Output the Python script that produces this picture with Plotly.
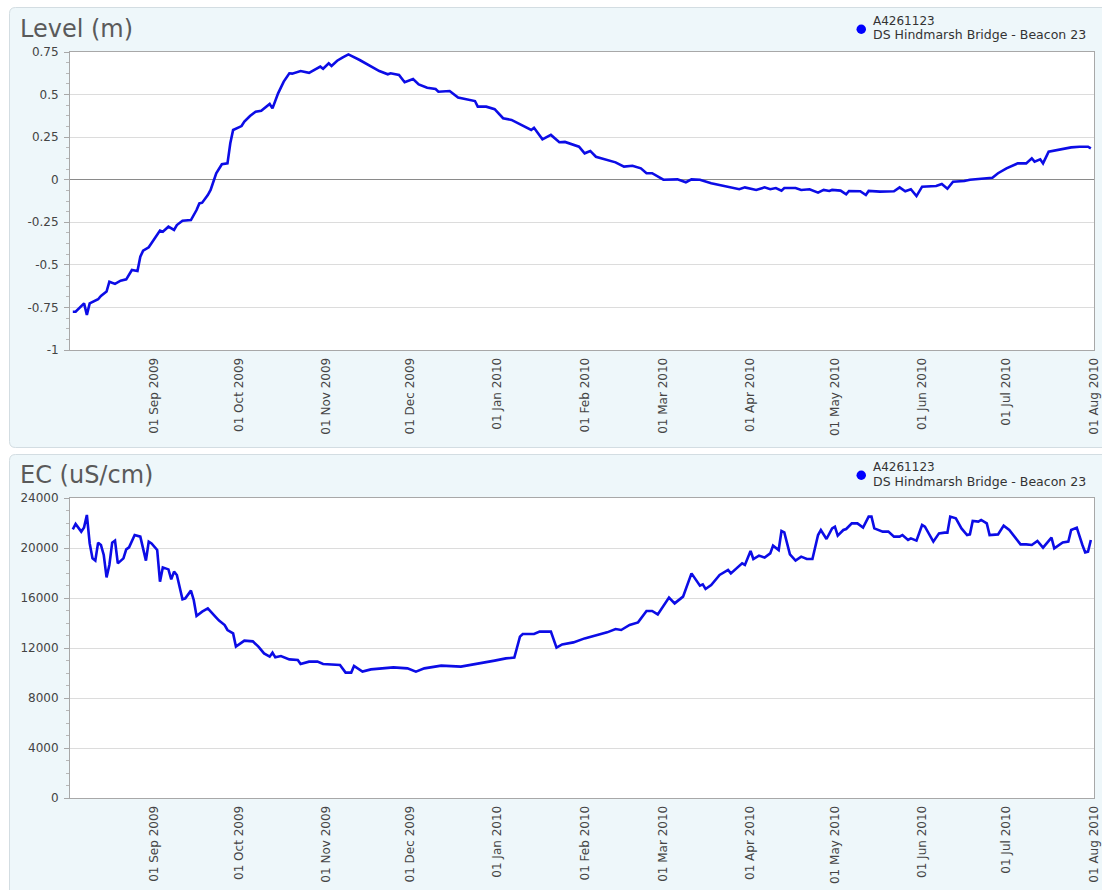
import plotly.graph_objects as go

W, H = 1102, 890

# ---------------- data ----------------
level_dates = [
    "2009-08-03", "2009-08-04", "2009-08-07", "2009-08-08", "2009-08-09", "2009-08-12", "2009-08-13",
    "2009-08-15", "2009-08-16", "2009-08-18", "2009-08-20", "2009-08-22", "2009-08-24", "2009-08-26",
    "2009-08-27", "2009-08-28", "2009-08-30", "2009-09-01", "2009-09-03", "2009-09-04", "2009-09-06",
    "2009-09-08", "2009-09-09", "2009-09-11", "2009-09-14", "2009-09-16", "2009-09-17", "2009-09-18",
    "2009-09-20", "2009-09-21", "2009-09-23", "2009-09-25", "2009-09-27", "2009-09-28", "2009-09-29",
    "2009-10-02", "2009-10-03", "2009-10-05", "2009-10-07", "2009-10-09", "2009-10-12", "2009-10-13",
    "2009-10-15", "2009-10-17", "2009-10-19", "2009-10-20", "2009-10-23", "2009-10-26", "2009-10-28",
    "2009-10-30", "2009-10-31", "2009-11-02", "2009-11-03", "2009-11-05", "2009-11-07", "2009-11-09",
    "2009-11-13", "2009-11-17", "2009-11-20", "2009-11-23", "2009-11-24", "2009-11-27", "2009-11-29",
    "2009-12-02", "2009-12-04", "2009-12-07", "2009-12-10", "2009-12-11", "2009-12-15", "2009-12-18",
    "2009-12-21", "2009-12-24", "2009-12-25", "2009-12-28", "2009-12-31", "2010-01-03", "2010-01-06",
    "2010-01-09", "2010-01-13", "2010-01-14", "2010-01-17", "2010-01-20", "2010-01-23", "2010-01-25",
    "2010-01-30", "2010-02-01", "2010-02-03", "2010-02-05", "2010-02-09", "2010-02-12", "2010-02-15",
    "2010-02-18", "2010-02-21", "2010-02-23", "2010-02-25", "2010-03-01", "2010-03-06", "2010-03-09",
    "2010-03-11", "2010-03-14", "2010-03-18", "2010-03-21", "2010-03-26", "2010-03-28", "2010-03-30",
    "2010-04-03", "2010-04-06", "2010-04-08", "2010-04-10", "2010-04-12", "2010-04-13", "2010-04-17",
    "2010-04-19", "2010-04-22", "2010-04-25", "2010-04-27", "2010-04-29", "2010-04-30", "2010-05-03",
    "2010-05-05", "2010-05-06", "2010-05-10", "2010-05-12", "2010-05-13", "2010-05-17", "2010-05-22",
    "2010-05-24", "2010-05-26", "2010-05-28", "2010-05-30", "2010-06-01", "2010-06-04", "2010-06-06",
    "2010-06-08", "2010-06-10", "2010-06-12", "2010-06-16", "2010-06-18", "2010-06-22", "2010-06-26",
    "2010-06-28", "2010-07-01", "2010-07-05", "2010-07-08", "2010-07-10", "2010-07-11", "2010-07-13",
    "2010-07-14", "2010-07-16", "2010-07-20", "2010-07-24", "2010-07-27", "2010-07-30", "2010-07-31",
]
level_values = [
    -0.775, -0.775, -0.726, -0.794, -0.726, -0.702, -0.683,
    -0.657, -0.599, -0.612, -0.593, -0.585, -0.530, -0.536,
    -0.452, -0.417, -0.397, -0.350, -0.299, -0.305, -0.276,
    -0.295, -0.266, -0.241, -0.237, -0.178, -0.139, -0.135,
    -0.090, -0.060, 0.038, 0.091, 0.096, 0.214, 0.292,
    0.315, 0.341, 0.374, 0.399, 0.405, 0.445, 0.419,
    0.507, 0.576, 0.625, 0.623, 0.638, 0.628, 0.644,
    0.664, 0.652, 0.684, 0.668, 0.699, 0.719, 0.736,
    0.703, 0.664, 0.638, 0.619, 0.625, 0.615, 0.572,
    0.591, 0.560, 0.540, 0.533, 0.517, 0.521, 0.482,
    0.474, 0.462, 0.429, 0.429, 0.414, 0.361, 0.351,
    0.325, 0.292, 0.305, 0.237, 0.263, 0.220, 0.222,
    0.194, 0.155, 0.169, 0.135, 0.116, 0.102, 0.077,
    0.082, 0.067, 0.038, 0.038, 0.000, 0.002, -0.015,
    0.002, 0.000, -0.021, -0.031, -0.045, -0.056, -0.045,
    -0.060, -0.045, -0.056, -0.049, -0.064, -0.049, -0.049,
    -0.060, -0.056, -0.076, -0.060, -0.066, -0.060, -0.064,
    -0.086, -0.066, -0.068, -0.090, -0.066, -0.070, -0.068,
    -0.045, -0.068, -0.056, -0.096, -0.041, -0.037, -0.037,
    -0.025, -0.053, -0.012, -0.008, 0.000, 0.004, 0.012,
    0.038, 0.067, 0.096, 0.096, 0.126, 0.106, 0.120,
    0.096, 0.165, 0.179, 0.190, 0.194, 0.194, 0.184,
]

ec_dates = [
    "2009-08-03", "2009-08-04", "2009-08-06", "2009-08-07", "2009-08-08", "2009-08-09", "2009-08-10",
    "2009-08-11", "2009-08-12", "2009-08-13", "2009-08-14", "2009-08-15", "2009-08-16", "2009-08-17",
    "2009-08-18", "2009-08-19", "2009-08-21", "2009-08-22", "2009-08-23", "2009-08-25", "2009-08-27",
    "2009-08-29", "2009-08-30", "2009-08-31", "2009-09-02", "2009-09-03", "2009-09-04", "2009-09-06",
    "2009-09-07", "2009-09-08", "2009-09-09", "2009-09-11", "2009-09-12", "2009-09-14", "2009-09-15",
    "2009-09-16", "2009-09-18", "2009-09-20", "2009-09-23", "2009-09-24", "2009-09-26", "2009-09-27",
    "2009-09-29", "2009-09-30", "2009-10-02", "2009-10-03", "2009-10-06", "2009-10-08", "2009-10-10",
    "2009-10-12", "2009-10-13", "2009-10-14", "2009-10-16", "2009-10-19", "2009-10-22", "2009-10-23",
    "2009-10-26", "2009-10-29", "2009-10-31", "2009-11-04", "2009-11-06", "2009-11-08", "2009-11-10",
    "2009-11-11", "2009-11-14", "2009-11-17", "2009-11-20", "2009-11-25", "2009-11-30", "2009-12-03",
    "2009-12-06", "2009-12-12", "2009-12-19", "2009-12-25", "2009-12-31", "2010-01-04", "2010-01-07",
    "2010-01-09", "2010-01-10", "2010-01-14", "2010-01-16", "2010-01-20", "2010-01-22", "2010-01-24",
    "2010-01-28", "2010-02-01", "2010-02-05", "2010-02-09", "2010-02-12", "2010-02-14", "2010-02-17",
    "2010-02-20", "2010-02-23", "2010-02-25", "2010-02-27", "2010-03-01", "2010-03-03", "2010-03-05",
    "2010-03-07", "2010-03-08", "2010-03-11", "2010-03-14", "2010-03-15", "2010-03-16", "2010-03-18",
    "2010-03-21", "2010-03-24", "2010-03-25", "2010-03-29", "2010-03-30", "2010-04-01", "2010-04-02",
    "2010-04-04", "2010-04-06", "2010-04-08", "2010-04-09", "2010-04-11", "2010-04-12", "2010-04-13",
    "2010-04-15", "2010-04-17", "2010-04-19", "2010-04-21", "2010-04-23", "2010-04-25", "2010-04-26",
    "2010-04-28", "2010-04-30", "2010-05-01", "2010-05-02", "2010-05-04", "2010-05-05", "2010-05-07",
    "2010-05-09", "2010-05-11", "2010-05-13", "2010-05-14", "2010-05-15", "2010-05-18", "2010-05-20",
    "2010-05-22", "2010-05-24", "2010-05-25", "2010-05-27", "2010-05-28", "2010-05-30", "2010-06-01",
    "2010-06-02", "2010-06-05", "2010-06-07", "2010-06-09", "2010-06-10", "2010-06-11", "2010-06-13",
    "2010-06-15", "2010-06-17", "2010-06-18", "2010-06-19", "2010-06-21", "2010-06-22", "2010-06-24",
    "2010-06-25", "2010-06-28", "2010-06-30", "2010-07-02", "2010-07-04", "2010-07-06", "2010-07-08",
    "2010-07-10", "2010-07-12", "2010-07-14", "2010-07-17", "2010-07-18", "2010-07-21", "2010-07-23",
    "2010-07-24", "2010-07-26", "2010-07-28", "2010-07-29", "2010-07-30", "2010-07-31",
]
ec_values = [
    21490, 21920, 21310, 21650, 22640, 20370, 19170,
    18990, 20430, 20240, 19440, 17650, 18640, 20430,
    20590, 18770, 19170, 19890, 20050, 21040, 20910,
    18990, 20510, 20370, 19840, 17310, 18450, 18290,
    17490, 18110, 17840, 15890, 15970, 16590, 15840,
    14560, 14910, 15170, 14430, 14190, 13840, 13440,
    13170, 12110, 12430, 12590, 12530, 12110, 11570,
    11310, 11630, 11250, 11360, 11090, 11040, 10720,
    10910, 10910, 10720, 10640, 10640, 10030, 10030,
    10560, 10110, 10290, 10370, 10450, 10370, 10110,
    10370, 10590, 10510, 10720, 10990, 11170, 11230,
    12910, 13120, 13120, 13310, 13310, 12030, 12290,
    12450, 12770, 13040, 13250, 13520, 13440, 13840,
    14050, 14960, 14960, 14690, 15310, 16030, 15570,
    15920, 16110, 17970, 16990, 17090, 16720, 17040,
    17840, 18240, 17970, 18770, 18640, 19760, 19120,
    19390, 19230, 19570, 20190, 19840, 21360, 21250,
    19490, 18990, 19310, 19120, 19120, 21040, 21440,
    20720, 21570, 21710, 20990, 21440, 21520, 21970,
    21970, 21630, 22510, 22510, 21570, 21310, 21310,
    20910, 20910, 21040, 20640, 20770, 20590, 21840,
    21710, 20510, 21170, 21230, 21230, 22510, 22370,
    21570, 21040, 21090, 22160, 22110, 22240, 21970,
    21040, 21090, 21790, 21440, 20910, 20290, 20290,
    20240, 20560, 20030, 20830, 19970, 20450, 20510,
    21440, 21630, 20240, 19650, 19710, 20640,
]

level_tick_vals = [0.75, 0.5, 0.25, 0, -0.25, -0.5, -0.75, -1]
level_tick_text = ["0.75", "0.5", "0.25", "0", "-0.25", "-0.5", "-0.75", "-1"]
ec_tick_vals = [24000, 20000, 16000, 12000, 8000, 4000, 0]
ec_tick_text = ["24000", "20000", "16000", "12000", "8000", "4000", "0"]

panel_titles = ["Level (m)", "EC (uS/cm)"]
series_code = "A4261123"
series_name = "DS Hindmarsh Bridge - Beacon 23"
x_range = ["2009-08-02", "2010-08-01 03:00"]

# ---------------- helpers (pixel -> paper) ----------------
def px(x):
    return x / W


def py(y):
    return 1 - y / H


def rounded_rect(x0, y0, x1, y1, r):
    return (
        f"M {px(x0 + r)} {py(y0)} L {px(x1 - r)} {py(y0)} "
        f"Q {px(x1)} {py(y0)} {px(x1)} {py(y0 + r)} "
        f"L {px(x1)} {py(y1 - r)} Q {px(x1)} {py(y1)} {px(x1 - r)} {py(y1)} "
        f"L {px(x0 + r)} {py(y1)} Q {px(x0)} {py(y1)} {px(x0)} {py(y1 - r)} "
        f"L {px(x0)} {py(y0 + r)} Q {px(x0)} {py(y0)} {px(x0 + r)} {py(y0)} Z"
    )


FONT = "DejaVu Sans"
LINE_COLOR = "#0c0ce6"
AXIS_COLOR = "#a8a8a8"
GRID_COLOR = "#dcdcdc"

plot_left, plot_right = 70, 1094
panels = [
    dict(top=52, bottom=350, panel_top=7.5, panel_bottom=447.5),
    dict(top=498, bottom=798, panel_top=454.5, panel_bottom=900),
]

fig = go.Figure()
fig.add_trace(go.Scatter(x=level_dates, y=level_values, mode="lines",
                         line=dict(color=LINE_COLOR, width=2.6), xaxis="x", yaxis="y",
                         showlegend=False, hoverinfo="skip"))
fig.add_trace(go.Scatter(x=ec_dates, y=ec_values, mode="lines",
                         line=dict(color=LINE_COLOR, width=2.6), xaxis="x2", yaxis="y2",
                         showlegend=False, hoverinfo="skip"))

xaxis_common = dict(
    type="date", range=x_range, tick0="2009-09-01", dtick="M1", tickformat="%d %b %Y",
    tickangle=-90, showgrid=False, zeroline=False, showline=True, linecolor=AXIS_COLOR,
    linewidth=1, mirror=True, ticks="", tickfont=dict(family=FONT, size=12, color="#444"),
    automargin=False, domain=[px(plot_left), px(plot_right)], ticklabelstandoff=2,
)
yaxis_common = dict(
    tickmode="array", showgrid=True, gridcolor=GRID_COLOR, gridwidth=1, showline=True,
    linecolor=AXIS_COLOR, linewidth=1, mirror=True, ticks="outside", ticklen=5,
    tickcolor=AXIS_COLOR, tickfont=dict(family=FONT, size=12, color="#444"),
    automargin=False, ticklabelstandoff=3,
)

fig.update_layout(
    width=W, height=H, margin=dict(l=0, r=0, t=0, b=0),
    paper_bgcolor="white", plot_bgcolor="white", showlegend=False,
    xaxis=dict(xaxis_common, anchor="y"),
    yaxis=dict(yaxis_common, anchor="x", range=[-1, 0.75], tickvals=level_tick_vals,
               ticktext=level_tick_text, zeroline=True, zerolinecolor="#8a8a8a", zerolinewidth=1,
               domain=[py(panels[0]["bottom"]), py(panels[0]["top"])],
               minor=dict(dtick=0.0625, tick0=0, ticks="outside", ticklen=3,
                          tickcolor="#b8b8b8", showgrid=False)),
    xaxis2=dict(xaxis_common, anchor="y2"),
    yaxis2=dict(yaxis_common, anchor="x2", range=[0, 24000], tickvals=ec_tick_vals,
                ticktext=ec_tick_text, zeroline=False,
                domain=[py(panels[1]["bottom"]), py(panels[1]["top"])],
                minor=dict(dtick=1000, tick0=0, ticks="outside", ticklen=3,
                           tickcolor="#b8b8b8", showgrid=False)),
)

shapes = []
annotations = []
for i, p in enumerate(panels):
    shapes.append(dict(type="path", xref="paper", yref="paper", layer="below",
                       path=rounded_rect(9.5, p["panel_top"], 1112, p["panel_bottom"], 6),
                       fillcolor="#eef7fa", line=dict(color="#d3dde2", width=1)))
    shapes.append(dict(type="rect", xref="paper", yref="paper", layer="below",
                       x0=px(plot_left), x1=px(plot_right), y0=py(p["bottom"]), y1=py(p["top"]),
                       fillcolor="white", line=dict(width=0)))
    off = p["top"] - 52
    shapes.append(dict(type="circle", xref="paper", yref="paper", layer="above",
                       x0=px(856.5), x1=px(866), y0=py(off + 34), y1=py(off + 24.5),
                       fillcolor="#0000ff", line=dict(width=0)))
    annotations.append(dict(text=panel_titles[i], xref="paper", yref="paper",
                            x=px(18), y=py(off + 29), xanchor="left", yanchor="middle",
                            showarrow=False, font=dict(family=FONT, size=24, color="#5a5a5a")))
    annotations.append(dict(text=series_code, xref="paper", yref="paper",
                            x=px(871), y=py(off + 21), xanchor="left", yanchor="middle",
                            showarrow=False, font=dict(family=FONT, size=12, color="#333")))
    annotations.append(dict(text=series_name, xref="paper", yref="paper",
                            x=px(871), y=py(off + 35), xanchor="left", yanchor="middle",
                            showarrow=False, font=dict(family=FONT, size=12.5, color="#333")))

fig.update_layout(shapes=shapes, annotations=annotations)
fig.write_html(
    "out.html",
    config={"displayModeBar": False, "staticPlot": True},
    post_script="document.body.style.margin='0';document.body.style.overflow='hidden';",
)
